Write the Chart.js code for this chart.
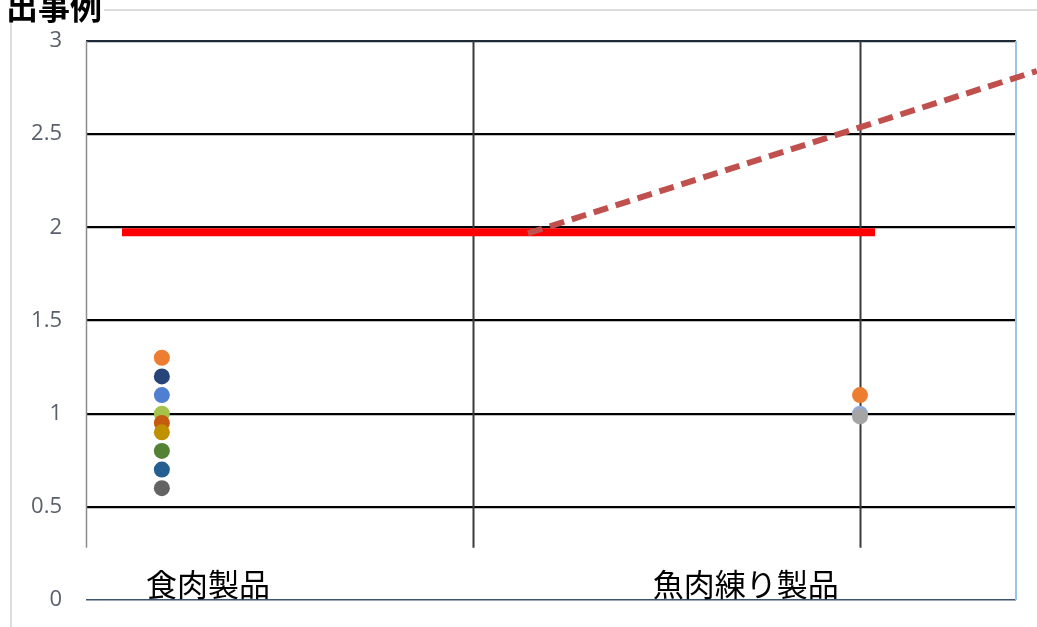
<!DOCTYPE html>
<html>
<head>
<meta charset="utf-8">
<script src="https://cdn.jsdelivr.net/npm/chart.js@4/dist/chart.umd.min.js"></script>
<style>
  html, body { margin: 0; padding: 0; background: #ffffff; }
  #wrap { width: 1037px; height: 627px; position: relative; }
</style>
</head>
<body>
<div id="wrap"><canvas id="c"></canvas></div>
<script>
// ---- data ----
const categories = ["食肉製品", "魚肉練り製品"];
const titleText = "出事例";
const yTickValues = [0, 0.5, 1, 1.5, 2, 2.5, 3];

const meatX = 0.196;
const meatValues = [1.3, 1.2, 1.1, 1.0, 0.95, 0.9, 0.8, 0.7, 0.6];
const meatColors = ["#ED7D31", "#264478", "#4F7FD0", "#A5C34A", "#C55A11", "#BF9000", "#548235", "#255E91", "#636363"];

const fishX = 2.0;
const fishValues = [1.1, 1.0, 0.985];
const fishColors = ["#ED7D31", "#8FAADC", "#A5A5A5"];

const limitLine = [{ x: 0.093, y: 1.973 }, { x: 2.039, y: 1.973 }];
const trendLine = [{ x: 1.142, y: 1.968 }, { x: 2.457, y: 2.839 }];

const categoryLabelX = [0.315, 1.705];
const verticalGridX = [0, 1, 2];

// ---- plugin ----
const decor = {
  id: "decor",
  beforeDatasetsDraw(chart) {
    const { ctx, scales: { x, y }, chartArea: a } = chart;
    ctx.save();
    verticalGridX.forEach((v, i) => {
      const px = Math.round(x.getPixelForValue(v)) + 0.5;
      ctx.beginPath();
      ctx.strokeStyle = i === 0 ? "#8c8c8c" : "#3a3a3a";
      ctx.lineWidth = i === 0 ? 1.5 : 2;
      ctx.moveTo(px, y.getPixelForValue(3));
      ctx.lineTo(px, y.getPixelForValue(0.28));
      ctx.stroke();
    });
    ctx.beginPath();
    ctx.strokeStyle = "#9DC3E6";
    ctx.lineWidth = 2;
    ctx.moveTo(a.right, y.getPixelForValue(3));
    ctx.lineTo(a.right, y.getPixelForValue(0));
    ctx.stroke();
    ctx.restore();
  },
  afterDraw(chart) {
    const { ctx, scales: { x, y } } = chart;
    ctx.save();
    // frame lines
    ctx.strokeStyle = "#dcdcdc";
    ctx.lineWidth = 2;
    ctx.beginPath();
    ctx.moveTo(104, 10);
    ctx.lineTo(1037, 10);
    ctx.moveTo(11, 14);
    ctx.lineTo(11, 627);
    ctx.stroke();
    // title (cropped)
    ctx.fillStyle = "#000";
    ctx.font = "700 32px 'Noto Sans CJK JP'";
    ctx.textAlign = "right";
    ctx.textBaseline = "alphabetic";
    ctx.fillText(titleText, 102, 19);
    // category labels
    ctx.font = "400 31px 'Noto Sans CJK JP'";
    ctx.textAlign = "center";
    ctx.textBaseline = "middle";
    categories.forEach((c, i) => {
      ctx.fillText(c, x.getPixelForValue(categoryLabelX[i]), y.getPixelForValue(0.085));
    });
    ctx.restore();
  }
};

const meatData = meatValues.map(v => ({ x: meatX, y: v }));
const fishData = fishValues.map(v => ({ x: fishX, y: v }));

new Chart(document.getElementById("c"), {
  type: "scatter",
  data: {
    datasets: [
      {
        type: "line", label: "trend", data: trendLine, order: 0,
        borderColor: "#C0504D", borderWidth: 6, borderDash: [15, 8],
        pointRadius: 0, fill: false, clip: false
      },
      {
        type: "line", label: "limit", data: limitLine, order: 1,
        borderColor: "#FF0000", borderWidth: 8,
        pointRadius: 0, fill: false
      },
      {
        label: categories[0], data: meatData, order: 2,
        pointRadius: 8, pointHoverRadius: 8, borderWidth: 0,
        backgroundColor: meatColors, pointBackgroundColor: meatColors
      },
      {
        label: categories[1], data: fishData, order: 2,
        pointRadius: 8, pointHoverRadius: 8, borderWidth: 0,
        backgroundColor: fishColors, pointBackgroundColor: fishColors
      }
    ]
  },
  options: {
    responsive: true,
    maintainAspectRatio: false,
    animation: false,
    events: [],
    layout: { padding: { left: 0, top: 41, right: 21, bottom: 27 } },
    plugins: { legend: { display: false }, tooltip: { enabled: false }, title: { display: false } },
    scales: {
      x: {
        type: "linear", min: 0, max: 2.4031, display: false
      },
      y: {
        type: "linear", min: 0, max: 3,
        afterFit(s) { s.width = 86; s.paddingTop = 0; s.paddingBottom = 0; },
        afterBuildTicks(s) { s.ticks = yTickValues.map(v => ({ value: v })); },
        border: { display: false },
        grid: {
          drawTicks: false,
          color: c => c.tick.value === 0 ? "#3d5570" : (c.tick.value === 3 ? "#1e2a36" : "#000000"),
          lineWidth: c => c.tick.value === 0 ? 1.5 : 2.2
        },
        ticks: {
          padding: 24,
          color: "#5a606b",
          font: { family: "'Open Sans'", size: 22 },
          callback: v => String(v)
        }
      }
    }
  },
  plugins: [decor]
});
</script>
</body>
</html>
